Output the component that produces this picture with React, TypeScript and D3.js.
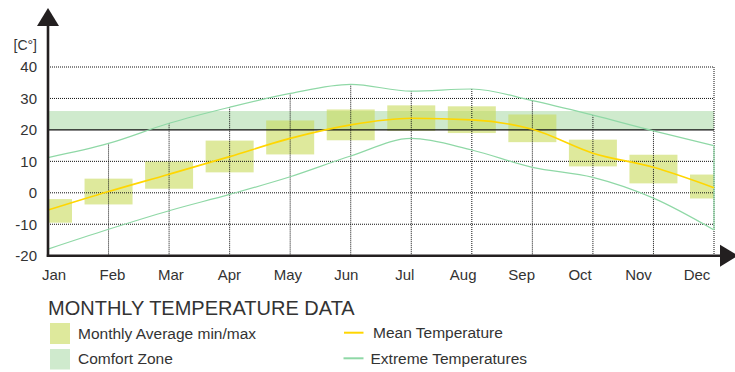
import React from "react";
import * as d3 from "d3";

const months = ["Jan", "Feb", "Mar", "Apr", "May", "Jun", "Jul", "Aug", "Sep", "Oct", "Nov", "Dec"];
const avgMin = [-9.5, -3.7, 1.3, 6.5, 12.2, 16.7, 19.7, 19.0, 16.1, 8.4, 3.0, -1.8];
const avgMax = [-2.0, 4.5, 10.0, 16.6, 23.0, 26.5, 27.8, 27.5, 24.9, 16.9, 12.1, 5.8];
const meanTemp = [-5.5, 0.4, 5.9, 11.5, 17.3, 21.6, 23.7, 23.2, 20.2, 12.6, 8.1, 1.6];
const extremeMax = [11.2, 15.7, 22.1, 27.2, 31.6, 34.5, 32.3, 33.0, 29.3, 24.7, 19.7, 15.0];
const extremeMin = [-17.9, -11.6, -5.7, -0.5, 5.1, 11.7, 17.3, 13.6, 8.1, 4.9, -1.7, -11.8];
const comfortZone = [20, 26];
const yTicks = [-20, -10, 0, 10, 20, 30, 40];

const FONT = "'Liberation Sans', Arial, Helvetica, sans-serif";
const TEXT = "#333";

export default function App() {
  const left = 48, right = 714, top = 67, bottom = 255.7;
  const x = d3.scalePoint<string>().domain(months).range([left, right]);
  const xLabel = d3.scalePoint<string>().domain(months).range([54, 697]);
  const y = d3.scaleLinear().domain([-20, 40]).range([bottom, top]);
  const boxW = 48;

  const line = d3
    .line<number>()
    .x((_, i) => x(months[i]) as number)
    .y((d) => y(d))
    .curve(d3.curveMonotoneX);

  const dot = { stroke: "#111", strokeWidth: 1, strokeDasharray: "1,1" };

  return (
    <svg
      width={735}
      height={372}
      style={{ position: "absolute", left: 0, top: 0, background: "#fff" }}
      fontFamily={FONT}
    >
      <defs>
        <clipPath id="plotClip">
          <rect x={left} y={0} width={right - left} height={bottom} />
        </clipPath>
      </defs>

      {/* comfort zone */}
      <rect
        x={left}
        y={y(comfortZone[1])}
        width={right - left}
        height={y(comfortZone[0]) - y(comfortZone[1])}
        fill="#cfeacd"
      />

      {/* monthly avg boxes */}
      <g clipPath="url(#plotClip)">
        {months.map((m, i) => (
          <rect
            key={m}
            x={(x(m) as number) - boxW / 2}
            y={y(avgMax[i])}
            width={boxW}
            height={y(avgMin[i]) - y(avgMax[i])}
            fill="rgb(200,218,90)"
            fillOpacity={0.6}
          />
        ))}
      </g>

      {/* horizontal gridlines */}
      {yTicks
        .filter((t) => t !== -20 && t !== 20)
        .map((t) => (
          <line key={t} x1={left} x2={right} y1={y(t)} y2={y(t)} {...dot} />
        ))}
      {/* vertical gridlines */}
      {months.slice(1, 11).map((m, i) => (
        <line
          key={m}
          x1={x(m)}
          x2={x(m)}
          y1={y(extremeMax[i + 1])}
          y2={bottom}
          {...dot}
        />
      ))}
      <line x1={right} x2={right} y1={y(40)} y2={bottom} {...dot} />

      {/* solid 20 line */}
      <line x1={left} x2={right} y1={y(20)} y2={y(20)} stroke="#111" strokeWidth={1.2} />

      {/* extreme lines */}
      <path d={line(extremeMax) || ""} fill="none" stroke="#8fd8a6" strokeWidth={1.2} />
      <path d={line(extremeMin) || ""} fill="none" stroke="#8fd8a6" strokeWidth={1.2} />
      <line
        x1={x("Dec")}
        x2={x("Dec")}
        y1={y(extremeMax[11])}
        y2={y(extremeMin[11])}
        stroke="#8fd8a6"
        strokeWidth={1.2}
      />

      {/* mean line */}
      <path d={line(meanTemp) || ""} fill="none" stroke="#ffd600" strokeWidth={1.6} />

      {/* axes */}
      <line x1={left} x2={left} y1={24} y2={bottom + 1.2} stroke="#231f20" strokeWidth={2.6} />
      <path d={`M${left},8 L${left + 11},26 L${left - 11},26 Z`} fill="#231f20" />
      <line x1={left - 1.2} x2={722} y1={bottom} y2={bottom} stroke="#231f20" strokeWidth={2.6} />
      <path d={`M738,${bottom} L720,${bottom - 11} L720,${bottom + 11} Z`} fill="#231f20" />

      {/* y tick labels */}
      {yTicks.map((t) => (
        <text
          key={t}
          x={37}
          y={y(t)}
          dy="0.36em"
          textAnchor="end"
          fontSize={15}
          fill={TEXT}
        >
          {t}
        </text>
      ))}
      <text x={37} y={45} dy="0.36em" textAnchor="end" fontSize={14} fill={TEXT}>
        [C°]
      </text>

      {/* month labels */}
      {months.map((m) => (
        <text key={m} x={xLabel(m)} y={280} textAnchor="middle" fontSize={15} fill={TEXT}>
          {m}
        </text>
      ))}

      {/* legend */}
      <text x={48} y={315} fontSize={20} fill={TEXT}>
        MONTHLY TEMPERATURE DATA
      </text>
      <rect x={50} y={323} width={20} height={21} fill="rgb(200,218,90)" fillOpacity={0.6} />
      <text x={78} y={333.5} dy="0.36em" fontSize={15.5} fill={TEXT}>
        Monthly Average min/max
      </text>
      <rect x={50} y={349} width={20} height={20.5} fill="#cfeacd" />
      <text x={78} y={358.5} dy="0.36em" fontSize={15.5} fill={TEXT}>
        Comfort Zone
      </text>
      <line x1={344} x2={363.5} y1={332.7} y2={332.7} stroke="#ffd600" strokeWidth={2} />
      <text x={373} y={332.5} dy="0.36em" fontSize={15.5} fill={TEXT}>
        Mean Temperature
      </text>
      <line x1={343.5} x2={363.5} y1={358.3} y2={358.3} stroke="#8fd8a6" strokeWidth={2} />
      <text x={370.5} y={358.5} dy="0.36em" fontSize={15.5} fill={TEXT}>
        Extreme Temperatures
      </text>
    </svg>
  );
}
